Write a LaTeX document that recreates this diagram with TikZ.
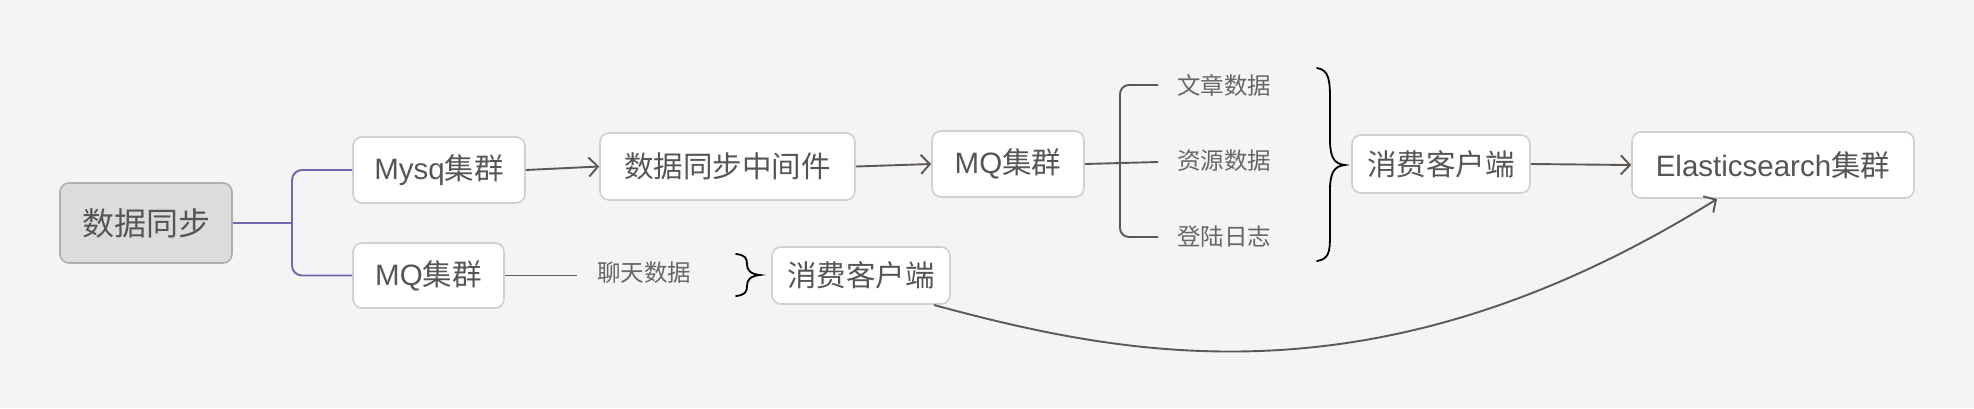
\documentclass[tikz,border=0pt]{standalone}
\usepackage{fontspec}
\setmainfont{Liberation Sans}
\newfontfamily\cjk{Noto Sans CJK SC}
\usetikzlibrary{arrows.meta}
\definecolor{bgc}{HTML}{F4F4F4}
\definecolor{boxline}{HTML}{D2CFCE}
\definecolor{rootfill}{HTML}{DCDCDC}
\definecolor{rootline}{HTML}{B2AEAC}
\definecolor{txt}{HTML}{555555}
\definecolor{small}{HTML}{666666}
\definecolor{purp}{HTML}{7466AA}
\definecolor{conn}{HTML}{5E5753}
\tikzset{
  x=1pt,y=-1pt,
  box/.style={draw=boxline,line width=1.6pt,fill=white,rounded corners=9pt,inner sep=0pt,text=txt,font=\fontsize{29.5}{34}\selectfont},
  rootbox/.style={box,draw=rootline,fill=rootfill,font=\fontsize{32}{38}\selectfont},
  leaf/.style={inner sep=0pt,text=small,font=\cjk\fontsize{23.5}{28}\selectfont},
  arr/.style={draw=conn,line width=1.9pt,-{Straight Barb[length=9pt,width=19pt,line width=1.9pt]}},
  tree/.style={draw=conn,line width=1.9pt,rounded corners=9pt},
  ptree/.style={draw=purp,line width=1.9pt,rounded corners=10pt},
  brace/.style={draw=black,line width=1.8pt,line cap=round}
}
\begin{document}
\begin{tikzpicture}
\fill[bgc] (0,0) rectangle (1974,408);
\useasboundingbox (0,0) rectangle (1974,408);
% nodes
\node[rootbox,minimum width=172pt,minimum height=80pt] (root) at (146,223) {\cjk 数据同步};
\node[box,minimum width=172pt,minimum height=66pt] (mysql) at (439,170) {Mysq{\cjk 集群}};
\node[box,minimum width=151pt,minimum height=65pt] (mq2) at (428.5,275.5) {MQ{\cjk 集群}};
\node[box,minimum width=255pt,minimum height=67pt] (mid) at (727.5,166.5) {\cjk 数据同步中间件};
\node[box,minimum width=152pt,minimum height=66pt] (mq1) at (1008,164) {MQ{\cjk 集群}};
\node[box,minimum width=178pt,minimum height=58pt] (cons1) at (1441,164) {\cjk 消费客户端};
\node[box,minimum width=282pt,minimum height=66pt] (es) at (1773,165) {Elasticsearch{\cjk 集群}};
\node[box,minimum width=178pt,minimum height=57pt] (cons2) at (861,275.5) {\cjk 消费客户端};
\node[leaf,anchor=west] (t1) at (1177,85) {文章数据};
\node[leaf,anchor=west] (t2) at (1177,161) {资源数据};
\node[leaf,anchor=west] (t3) at (1177,237) {登陆日志};
\node[leaf,anchor=west] (chat) at (597,273) {聊天数据};
% purple tree
\coordinate (pj) at (292,223);
\draw[ptree] (root.east) -- (pj);
\draw[ptree] (mysql.west) -- (292,170) -- (292,275.5) -- (mq2.west);
% gray tree
\coordinate (gj) at (1120,162);
\coordinate (b1) at (1158,85);
\coordinate (b2) at (1158,162);
\coordinate (b3) at (1158,237);
\draw[tree] (mq1.east) -- (b2);
\draw[tree] (b1) -- (gj |- b1) -- (gj |- b3) -- (b3);
\coordinate (c1) at (577,275.5);
\draw[tree] (mq2.east) -- (c1);
% arrows
\draw[arr] (mysql.east) -- (mid.west);
\draw[arr] (mid.east) -- (mq1.west);
\draw[arr] (cons1.east) -- (es.west);
\coordinate (cs) at (934,305);
\coordinate (ce) at (1717,199);
\draw[arr] (cs) .. controls (1130,358) and (1381,408) .. (ce);
% braces
\draw[brace] (1317,68) .. controls (1329,70) and (1330,80) .. (1330,100) -- (1330,140) .. controls (1330,157) and (1334,164) .. (1345,165) .. controls (1334,166) and (1330,173) .. (1330,190) -- (1330,235) .. controls (1330,252) and (1329,259) .. (1317,261);
\draw[brace] (736,254) .. controls (745,255) and (747,258) .. (747,264) .. controls (747,270) and (750,274) .. (760,275) .. controls (750,276) and (747,280) .. (747,286) .. controls (747,292) and (745,295) .. (736,296);
\end{tikzpicture}
\end{document}
